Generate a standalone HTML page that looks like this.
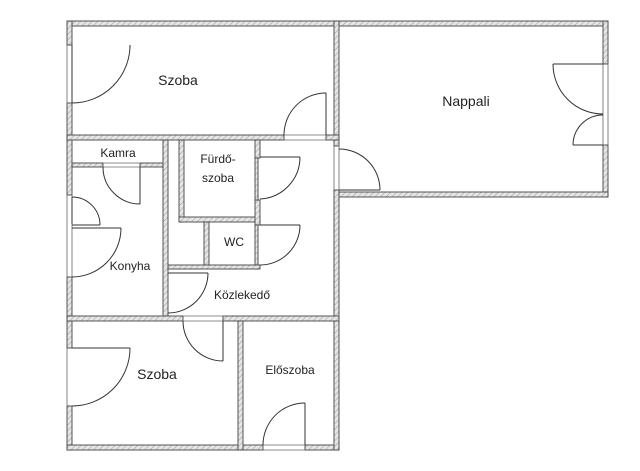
<!DOCTYPE html>
<html><head><meta charset="utf-8"><style>
html,body{margin:0;padding:0;background:#fff;}
svg{display:block}
text{font-family:"Liberation Sans",sans-serif;fill:#222}
</style></head><body>
<svg width="640" height="471" viewBox="0 0 640 471" xmlns="http://www.w3.org/2000/svg">
<defs>
<pattern id="h" width="4" height="4" patternUnits="userSpaceOnUse" patternTransform="rotate(45)">
<rect width="4" height="4" fill="#e6e6e6"/><line x1="0" y1="0" x2="0" y2="4" stroke="#9a9a9a" stroke-width="1"/>
</pattern>
</defs>
<g fill="url(#h)" stroke="#444" stroke-width="0.9">
<rect x="67" y="21" width="541" height="5"/>
<rect x="67" y="21" width="5" height="24"/>
<rect x="67" y="103" width="5" height="92"/>
<rect x="67" y="277" width="5" height="71"/>
<rect x="67" y="406" width="5" height="44"/>
<rect x="67" y="445" width="196" height="5"/>
<rect x="305" y="445" width="34" height="5"/>
<rect x="334" y="21" width="5" height="125"/>
<rect x="334" y="190" width="5" height="260"/>
<rect x="603" y="21" width="5" height="43"/>
<rect x="603" y="145" width="5" height="52"/>
<rect x="339" y="192" width="269" height="5"/>
<rect x="67" y="135" width="217" height="5"/>
<rect x="326" y="135" width="13" height="5"/>
<rect x="72" y="163" width="31" height="4"/>
<rect x="140" y="163" width="28" height="4"/>
<rect x="163" y="140" width="5" height="177"/>
<rect x="179" y="140" width="5" height="82"/>
<rect x="179" y="217" width="81" height="5"/>
<rect x="255" y="140" width="5" height="18"/>
<rect x="255" y="200" width="5" height="25"/>
<rect x="255" y="158" width="3" height="42"/>
<rect x="255" y="225" width="3" height="44"/>
<rect x="204" y="222" width="5" height="45"/>
<rect x="168" y="265" width="92" height="4"/>
<rect x="67" y="316" width="116" height="5"/>
<rect x="223" y="316" width="116" height="5"/>
<rect x="238" y="321" width="5" height="129"/>
</g>
<!-- door frame lines across openings -->
<g stroke="#666" stroke-width="0.8" fill="none">
<line x1="67" y1="45" x2="67" y2="103"/><line x1="72" y1="45" x2="72" y2="103"/>
<line x1="67" y1="195" x2="67" y2="277"/><line x1="72" y1="195" x2="72" y2="277"/>
<line x1="67" y1="348" x2="67" y2="406"/>
<line x1="263" y1="445" x2="305" y2="445"/><line x1="263" y1="450" x2="305" y2="450"/>
<line x1="334" y1="146" x2="334" y2="190"/><line x1="339" y1="146" x2="339" y2="190"/>
<line x1="603" y1="64" x2="603" y2="145"/><line x1="608" y1="64" x2="608" y2="145"/>
<line x1="284" y1="135" x2="326" y2="135"/><line x1="284" y1="140" x2="326" y2="140"/>
<line x1="103" y1="163" x2="140" y2="163"/><line x1="103" y1="167" x2="140" y2="167"/>
<line x1="183" y1="316" x2="223" y2="316"/><line x1="183" y1="321" x2="223" y2="321"/>
</g>
<g fill="none" stroke="#333" stroke-width="1">
<line x1="72" y1="45" x2="72" y2="103"/><path d="M130,45 A58,58 0 0 1 72,103"/><line x1="130" y1="45" x2="130" y2="48"/>
<line x1="326" y1="93" x2="326" y2="135"/><path d="M326,93 A42,42 0 0 0 284,135"/>
<line x1="339" y1="190" x2="380" y2="190"/><path d="M339,149 A41,41 0 0 1 380,190"/>
<line x1="553" y1="64" x2="603" y2="64"/><path d="M553,64 A50,50 0 0 0 603,114"/>
<line x1="573" y1="145" x2="603" y2="145"/><path d="M573,145 A30,30 0 0 1 603,115"/>
<line x1="140" y1="167" x2="140" y2="204"/><path d="M103,167 A37,37 0 0 0 140,204"/>
<line x1="72" y1="197" x2="72" y2="224"/><path d="M72,197 A28,28 0 0 1 100,225"/><line x1="72" y1="225" x2="100" y2="225"/>
<line x1="72" y1="228" x2="121" y2="228"/><path d="M121,228 A49,49 0 0 1 72,277"/>
<line x1="260" y1="157" x2="300" y2="157"/><path d="M300,157 A42,42 0 0 1 260,199"/>
<line x1="260" y1="225" x2="300" y2="225"/><path d="M300,225 A40,40 0 0 1 260,265"/>
<line x1="168" y1="273" x2="208" y2="273"/><path d="M208,273 A40,40 0 0 1 168,313"/>
<line x1="223" y1="321" x2="223" y2="361"/><path d="M183,321 A40,40 0 0 0 223,361"/>
<line x1="72" y1="348" x2="130" y2="348"/><path d="M130,348 A58,58 0 0 1 72,406"/>
<line x1="305" y1="403" x2="305" y2="445"/><path d="M305,403 A42,42 0 0 0 263,445"/>
</g>
<g font-size="14">
<text x="178" y="85" text-anchor="middle">Szoba</text>
<text x="466" y="106" text-anchor="middle">Nappali</text>
<text x="157" y="379" text-anchor="middle">Szoba</text>
</g>
<g font-size="12">
<text x="118" y="157" text-anchor="middle">Kamra</text>
<text x="218" y="163" text-anchor="middle">Fürdő-</text>
<text x="218" y="182" text-anchor="middle">szoba</text>
<text x="234" y="246" text-anchor="middle">WC</text>
<text x="130" y="270" text-anchor="middle">Konyha</text>
<text x="242" y="299" text-anchor="middle">Közlekedő</text>
<text x="290" y="374" text-anchor="middle">Előszoba</text>
</g>
</svg>
</body></html>
